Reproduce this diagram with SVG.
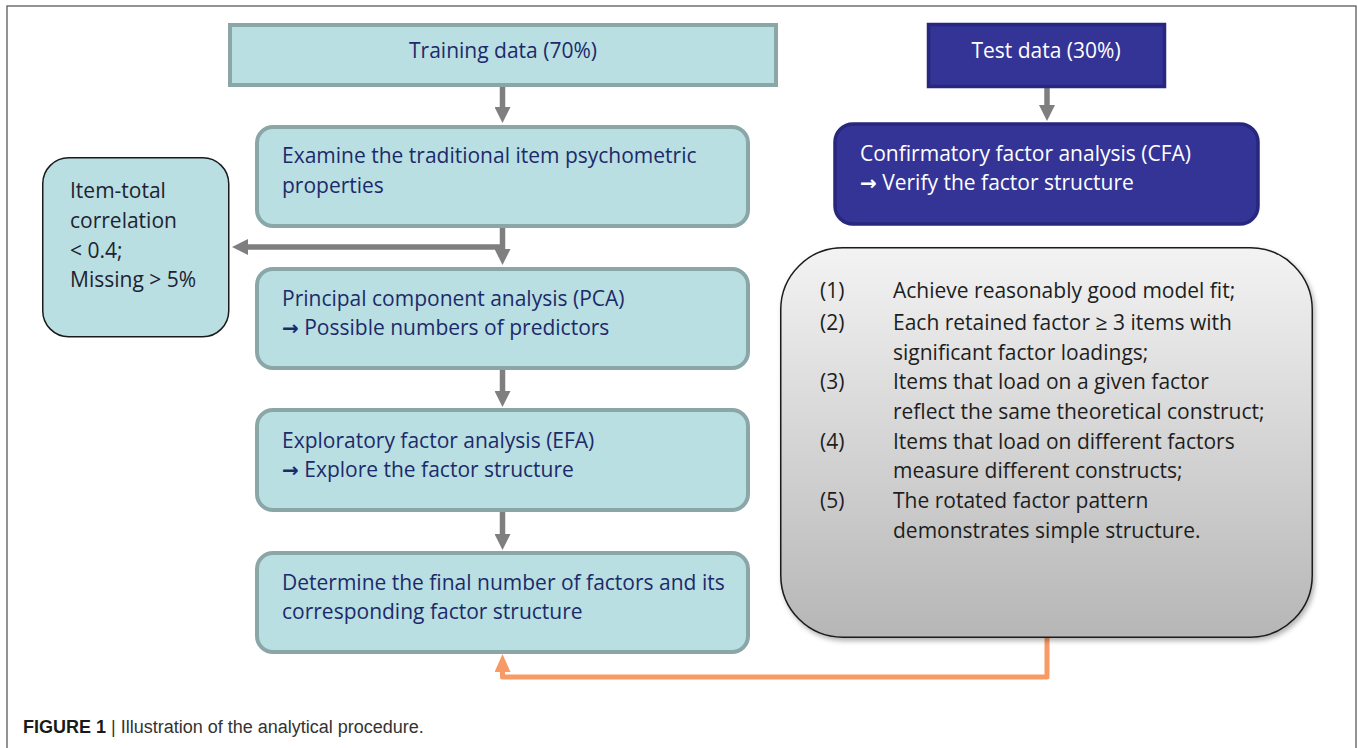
<svg xmlns="http://www.w3.org/2000/svg" width="1358" height="748" viewBox="0 0 1358 748">
<style>
.teal{fill:#b9dfe2;stroke:#8ba6a7;stroke-width:4}
.item{fill:#b9dfe2;stroke:#1a1a1a;stroke-width:1.5}
.blue{fill:#343497;stroke:#27277d;stroke-width:3.5}
.gray{fill:url(#gg);stroke:#1a1a1a;stroke-width:1.5}
.t{font-family:"Open Sans","Liberation Sans",sans-serif;font-size:21px}
.ar{font-family:"DejaVu Sans",sans-serif;font-weight:bold;font-size:20px}
.nv{fill:#1d2a6a}
.dk{fill:#1f2230}
.wh{fill:#ffffff}
.gt{fill:#1e1e1e}
.arr{stroke:#7f7f7f;stroke-width:5.5;fill:none;marker-end:url(#ga)}
.or{stroke:#f79a66;stroke-width:5;fill:none;stroke-linejoin:round;marker-end:url(#oa)}
.cap{font-family:"Liberation Sans",Arial,sans-serif;font-size:18px;fill:#333}
</style>
<defs>
<linearGradient id="gg" x1="0" y1="0" x2="0" y2="1">
<stop offset="0" stop-color="#f3f3f3"/>
<stop offset="1" stop-color="#b6b6b6"/>
</linearGradient>
<filter id="sh" x="-5%" y="-5%" width="112%" height="112%">
<feDropShadow dx="2" dy="3" stdDeviation="2.5" flood-color="#000" flood-opacity="0.3"/>
</filter>
<marker id="ga" viewBox="0 0 16 16" refX="1" refY="8" markerWidth="16" markerHeight="16" markerUnits="userSpaceOnUse" orient="auto">
<path d="M0,0 L16,8 L0,16 z" fill="#7f7f7f"/>
</marker>
<marker id="oa" viewBox="0 0 18 16" refX="1" refY="8" markerWidth="18" markerHeight="16" markerUnits="userSpaceOnUse" orient="auto">
<path d="M0,0 L18,8 L0,16 z" fill="#f79a66"/>
</marker>
</defs>
<rect x="0" y="0" width="1358" height="748" fill="#ffffff"/>
<rect x="7" y="6" width="1349" height="770" fill="none" stroke="#5a5a5a" stroke-width="1.3"/>

<g id="connectors">
<path class="arr" d="M502.5,87 V108"/>
<path class="arr" d="M502.5,228 V250"/>
<path class="arr" d="M505,247 H247"/>
<path class="arr" d="M502.5,370 V392"/>
<path class="arr" d="M502.5,512 V535"/>
<path class="arr" d="M1047,88 V106"/>
<path class="or" d="M1047,638 V677 H502.5 V671"/>
</g>

<g id="training">
<rect class="teal" x="230" y="25" width="546" height="60"/>
<text class="t nv" x="503" y="58" text-anchor="middle">Training data (70%)</text>
</g>
<g id="examine">
<rect class="teal" x="257" y="127" width="491" height="99" rx="16"/>
<text class="t nv" x="282" y="163">Examine the traditional item psychometric</text>
<text class="t nv" x="282" y="193">properties</text>
</g>
<g id="itemtotal">
<rect class="item" x="42.75" y="157.75" width="186" height="179" rx="26"/>
<text class="t dk" x="70" y="198">Item-total</text>
<text class="t dk" x="70" y="228">correlation</text>
<text class="t dk" x="70" y="258">&lt; 0.4;</text>
<text class="t dk" x="70" y="287">Missing &gt; 5%</text>
</g>
<g id="pca">
<rect class="teal" x="257" y="269" width="491" height="99" rx="16"/>
<text class="t nv" x="282" y="306">Principal component analysis (PCA)</text>
<text class="t nv" x="282" y="335"><tspan class="ar">→</tspan> Possible numbers of predictors</text>
</g>
<g id="efa">
<rect class="teal" x="257" y="410" width="491" height="100" rx="16"/>
<text class="t nv" x="282" y="448">Exploratory factor analysis (EFA)</text>
<text class="t nv" x="282" y="477"><tspan class="ar">→</tspan> Explore the factor structure</text>
</g>
<g id="determine">
<rect class="teal" x="257" y="553" width="491" height="99" rx="16"/>
<text class="t nv" x="282" y="590">Determine the final number of factors and its</text>
<text class="t nv" x="282" y="619">corresponding factor structure</text>
</g>
<g id="test">
<rect class="blue" x="928.5" y="24.5" width="236" height="62"/>
<text class="t wh" x="1046" y="58" text-anchor="middle">Test data (30%)</text>
</g>
<g id="cfa">
<rect class="blue" x="835" y="124" width="423" height="100" rx="18"/>
<text class="t wh" x="860" y="161">Confirmatory factor analysis (CFA)</text>
<text class="t wh" x="860" y="190"><tspan class="ar">→</tspan> Verify the factor structure</text>
</g>
<g id="criteria">
<rect class="gray" x="780.75" y="247.75" width="531.5" height="389.5" rx="62" filter="url(#sh)"/>
<text class="t gt" x="820" y="298">(1)</text>
<text class="t gt" x="893" y="298">Achieve reasonably good model fit;</text>
<text class="t gt" x="820" y="330">(2)</text>
<text class="t gt" x="893" y="330">Each retained factor ≥ 3 items with</text>
<text class="t gt" x="893" y="360">significant factor loadings;</text>
<text class="t gt" x="820" y="389">(3)</text>
<text class="t gt" x="893" y="389">Items that load on a given factor</text>
<text class="t gt" x="893" y="419">reflect the same theoretical construct;</text>
<text class="t gt" x="820" y="449">(4)</text>
<text class="t gt" x="893" y="449">Items that load on different factors</text>
<text class="t gt" x="893" y="478">measure different constructs;</text>
<text class="t gt" x="820" y="508">(5)</text>
<text class="t gt" x="893" y="508">The rotated factor pattern</text>
<text class="t gt" x="893" y="538">demonstrates simple structure.</text>
</g>
<text class="cap" x="23" y="733"><tspan font-weight="bold" fill="#1a1a1a">FIGURE 1</tspan> | Illustration of the analytical procedure.</text>
</svg>
